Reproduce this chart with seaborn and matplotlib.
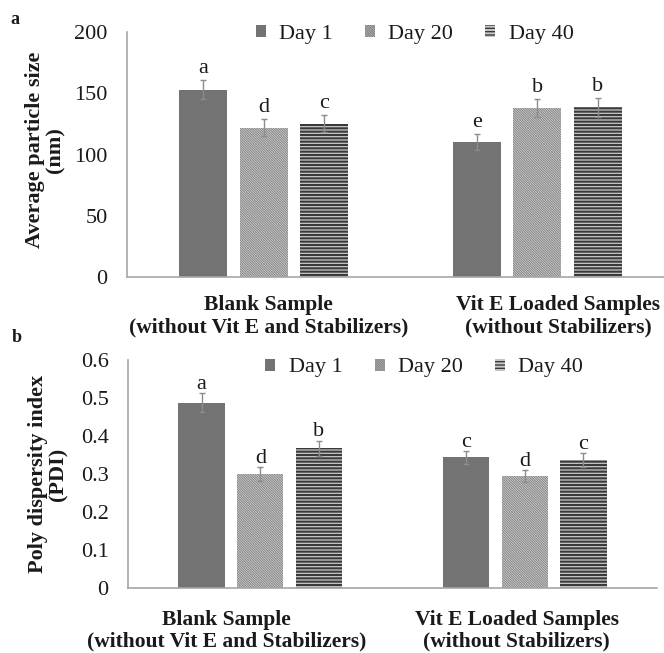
import numpy as np
import pandas as pd
import matplotlib
matplotlib.use("Agg")
import matplotlib.pyplot as plt
import seaborn as sns
from matplotlib.transforms import ScaledTranslation

# ---------------- data ----------------
categories = ["Blank Sample\n(without Vit E and Stabilizers)",
              "Vit E Loaded Samples\n(without Stabilizers)"]
days = ["Day 1", "Day 20", "Day 40"]

# panel a: average particle size (nm)
size_day1 = [153.0, 110.5]
size_day20 = [122.0, 138.0]
size_day40 = [125.0, 138.5]
size_err_day1 = [7.5, 6.5]
size_err_day20 = [7.0, 7.5]
size_err_day40 = [7.0, 7.5]
size_let_day1 = ["a", "e"]
size_let_day20 = ["d", "b"]
size_let_day40 = ["c", "b"]
size_ticks = [0, 50, 100, 150, 200]
size_ticklabels = ["0", "50", "100", "150", "200"]

# panel b: poly dispersity index
pdi_day1 = [0.487, 0.344]
pdi_day20 = [0.300, 0.295]
pdi_day40 = [0.368, 0.336]
pdi_err_day1 = [0.025, 0.017]
pdi_err_day20 = [0.018, 0.016]
pdi_err_day40 = [0.020, 0.018]
pdi_let_day1 = ["a", "c"]
pdi_let_day20 = ["d", "d"]
pdi_let_day40 = ["b", "c"]
pdi_ticks = [0, 0.1, 0.2, 0.3, 0.4, 0.5, 0.6]
pdi_ticklabels = ["0", "0.1", "0.2", "0.3", "0.4", "0.5", "0.6"]

# ---------------- style ----------------
sns.set_style("white")
plt.rcParams["font.family"] = ["Liberation Serif", "DejaVu Serif"]
plt.rcParams["hatch.linewidth"] = 1.0
TXT = "#1a1a1a"
SPINE = "#a6a6a6"
FS = 16

styles = [
    dict(facecolor="#737373", edgecolor="#737373", hatch=None, hlw=1.0),
    dict(facecolor="#e6e6e6", edgecolor="#858585", hatch="\\" * 14, hlw=0.8),
    dict(facecolor="#c8c8c8", edgecolor="#3a3a3a", hatch="-----", hlw=1.5),
]

fig = plt.figure(figsize=(6.64, 6.53), dpi=100)


def panel(rect, vals, errs, lets, ylim, ticks, ticklabels, ylabel, ylabel_y,
          legend_xy, xlabel_dx, xlabel_pad, letter_off):
    ax = fig.add_axes(rect)
    df = pd.DataFrame({
        "Sample": categories * 3,
        "Day": [d for d in days for _ in categories],
        "value": [v for series in vals for v in series],
    })
    sns.barplot(data=df, x="Sample", y="value", hue="Day", order=categories,
                hue_order=days, errorbar=None, width=0.665, gap=0.21, ax=ax,
                palette=["#737373"] * 3, legend=False)
    for cont, st, v, e, L in zip(ax.containers, styles, vals, errs, lets):
        xs = []
        for p in cont:
            p.set_facecolor(st["facecolor"])
            p.set_edgecolor(st["edgecolor"])
            p.set_linewidth(0)
            if st["hatch"]:
                p.set_hatch(st["hatch"])
                if hasattr(p, "set_hatch_linewidth"):
                    p.set_hatch_linewidth(st["hlw"])
            xs.append(p.get_x() + p.get_width() / 2)
        ax.errorbar(xs, v, yerr=e, fmt="none", ecolor="#8c8c8c",
                    elinewidth=1.0, capsize=2.5, capthick=1.0, zorder=3)
        for x, y, er, t in zip(xs, v, e, L):
            ax.annotate(t, xy=(x, y + er), xytext=(0, letter_off),
                        textcoords="offset points", ha="center",
                        va="baseline", fontsize=FS, color=TXT)
    ax.set_xlim(-0.5, 1.5)
    ax.set_ylim(*ylim)
    ax.set_yticks(ticks)
    ax.set_yticklabels(ticklabels, fontsize=FS, color=TXT)
    ax.set_xticks([0, 1])
    ax.set_xticklabels(categories, fontsize=15.5, fontweight="bold",
                       color=TXT, linespacing=1.15)
    ax.tick_params(axis="y", length=0, pad=14)
    ax.tick_params(axis="x", length=0, pad=xlabel_pad)
    for lab, dx in zip(ax.get_xticklabels(), xlabel_dx):
        lab.set_transform(lab.get_transform() +
                          ScaledTranslation(dx / 100.0, 0, fig.dpi_scale_trans))
    ax.set_xlabel("")
    ax.set_ylabel(ylabel, fontsize=16, fontweight="bold", color=TXT,
                  linespacing=1.05)
    ax.yaxis.set_label_coords(-0.112, ylabel_y)
    for s in ["top", "right"]:
        ax.spines[s].set_visible(False)
    for s in ["left", "bottom"]:
        ax.spines[s].set_color(SPINE)
        ax.spines[s].set_linewidth(1.2)
    handles = [c[0] for c in ax.containers]
    leg = ax.legend(handles, days, loc="center", bbox_to_anchor=legend_xy,
                    ncol=3, frameon=False, fontsize=FS, handlelength=0.45,
                    handleheight=0.45, handletextpad=0.6, columnspacing=1.45,
                    borderaxespad=0)
    for t in leg.get_texts():
        t.set_color(TXT)
    return ax


axa = panel([127 / 664, 1 - 277 / 653, 547 / 664, 245 / 653],
            [size_day1, size_day20, size_day40],
            [size_err_day1, size_err_day20, size_err_day40],
            [size_let_day1, size_let_day20, size_let_day40],
            (0, 200), size_ticks, size_ticklabels,
            "Average particle size\n(nm)", 0.52, (0.526, 0.99), [5, 21], 13, 5)

axb = panel([128 / 664, 1 - 588 / 653, 529 / 664, 228 / 653],
            [pdi_day1, pdi_day20, pdi_day40],
            [pdi_err_day1, pdi_err_day20, pdi_err_day40],
            [pdi_let_day1, pdi_let_day20, pdi_let_day40],
            (0, 0.6), pdi_ticks, pdi_ticklabels,
            "Poly dispersity index\n(PDI)", 0.5, (0.56, 0.965), [-34, -8], 15.5, 3)

fig.text(15 / 664, 1 - 19 / 653, "a", fontsize=13, fontweight="bold",
         ha="center", va="center", color=TXT)
fig.text(17 / 664, 1 - 337 / 653, "b", fontsize=13, fontweight="bold",
         ha="center", va="center", color=TXT)

fig.savefig("out.png", dpi=100, facecolor="white")
